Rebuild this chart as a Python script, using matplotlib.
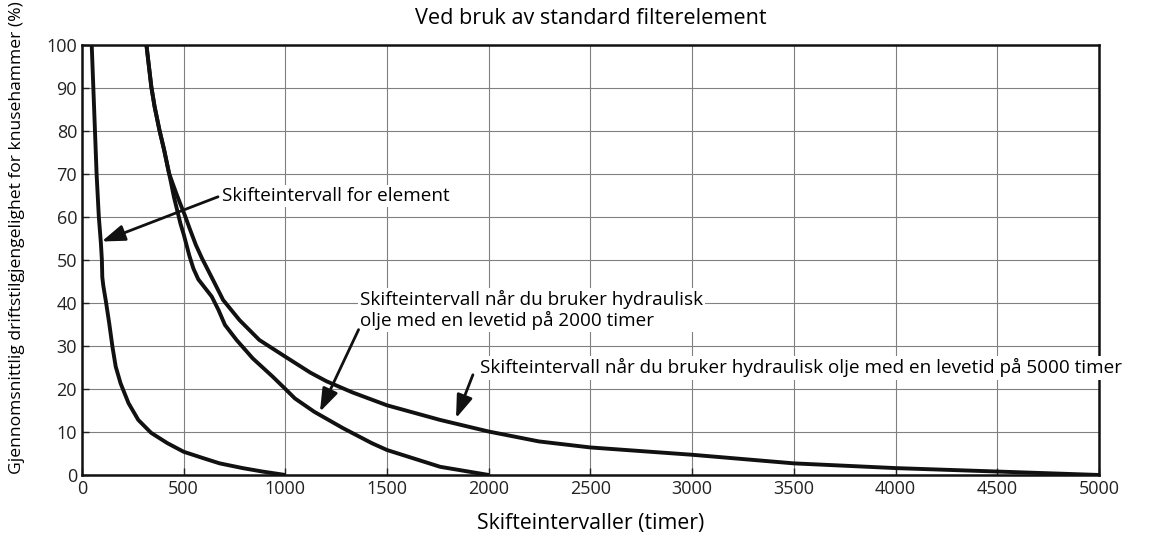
import matplotlib.pyplot as plt

plt.rcParams['font.family'] = ['Open Sans', 'DejaVu Sans']

# filter element change interval
elem_x = [48, 56, 64, 72, 83, 93, 98, 100, 105, 118, 134, 150, 166, 190, 229, 277,
          340, 420, 500, 597, 677, 790, 887, 1000]
elem_y = [100, 90, 80, 70, 60, 54, 50, 46, 44, 40.3, 35.3, 29.8, 25.2, 21.3, 16.7, 12.8,
          9.8, 7.4, 5.4, 3.9, 2.7, 1.6, 0.8, 0]

# hydraulic oil with 2000 h lifetime
oil2000_x = [317, 341, 357, 381, 404, 428, 440, 452, 468, 484, 500, 528, 548, 572, 638,
             671, 703, 760, 840, 937, 1000, 1047, 1142, 1283, 1425, 1500, 1761, 2000]
oil2000_y = [100, 90.3, 85.7, 80.2, 75.6, 70.2, 67.5, 64.7, 61.6, 58.5, 56, 51, 48, 45.5, 41.5,
             38.4, 34.9, 31.4, 27.1, 22.9, 20, 17.8, 14.7, 10.9, 7.4, 5.8, 1.9, 0]

# hydraulic oil with 5000 h lifetime
oil5000_x = [317, 341, 357, 381, 404, 428, 446, 466, 484, 505, 532, 560, 590, 645, 694,
             775, 872, 1000, 1123, 1202, 1330, 1500, 1761, 2000, 2247, 2500, 3000, 3500,
             4000, 4500, 5000]
oil5000_y = [100, 90.3, 85.7, 80.2, 75.6, 70.2, 67.8, 65.2, 63, 60.5, 57, 53.5, 50.4, 45.3, 40.7,
             36, 31.4, 27.5, 23.8, 21.8, 19.2, 16.2, 12.8, 10.1, 7.8, 6.4, 4.7, 2.7,
             1.6, 0.8, 0]

x_ticks = list(range(0, 5001, 500))
y_ticks = list(range(0, 101, 10))

fig = plt.figure(figsize=(11.51, 5.37), dpi=100)
ax = fig.add_axes([0.0712, 0.1155, 0.8836, 0.8007])

for xs, ys in [(elem_x, elem_y), (oil2000_x, oil2000_y), (oil5000_x, oil5000_y)]:
    ax.plot(xs, ys, color='#111111', lw=2.8, solid_joinstyle='round',
            solid_capstyle='butt', zorder=3)

ax.set_xlim(0, 5000)
ax.set_ylim(0, 100)
ax.set_xticks(x_ticks)
ax.set_yticks(y_ticks)
ax.grid(True, color='#808080', lw=0.8)
ax.tick_params(direction='in', length=5, width=1, labelsize=13, colors='#222222')
for s in ax.spines.values():
    s.set_linewidth(1.8)
    s.set_color('#111111')

ax.set_title('Ved bruk av standard filterelement', fontsize=15.6, pad=15)
ax.set_xlabel('Skifteintervaller (timer)', fontsize=15.3)
ax.set_ylabel('Gjennomsnittlig driftstilgjengelighet for knusehammer (%)', fontsize=12.6)
ax.xaxis.set_label_coords(0.5, -0.088)
ax.yaxis.set_label_coords(-0.056, 0.553)

box = dict(facecolor='white', edgecolor='none', pad=1.5)
arrow = dict(arrowstyle='-|>,head_length=1.0,head_width=0.35', color='#111111', lw=2,
             shrinkA=0, shrinkB=0, mutation_scale=14)

ax.text(688, 64.9, 'Skifteintervall for element', fontsize=13.6, va='center', ha='left',
        bbox=box, zorder=5)
ax.annotate('', xy=(97, 54.3), xytext=(669, 64.7), arrowprops=arrow, zorder=5)

ax.text(1367, 38.4, 'Skifteintervall når du bruker hydraulisk\nolje med en levetid på 2000 timer',
        fontsize=13.6, va='center', ha='left', linespacing=1.15, bbox=box, zorder=5)
ax.annotate('', xy=(1170, 14.7), xytext=(1360, 33.8), arrowprops=arrow, zorder=5)

ax.text(1957, 24.9, 'Skifteintervall når du bruker hydraulisk olje med en levetid på 5000 timer',
        fontsize=13.6, va='center', ha='left', bbox=box, zorder=5)
ax.annotate('', xy=(1839, 13.2), xytext=(1922, 23.3), arrowprops=arrow, zorder=5)

fig.savefig('out.png', dpi=100)
